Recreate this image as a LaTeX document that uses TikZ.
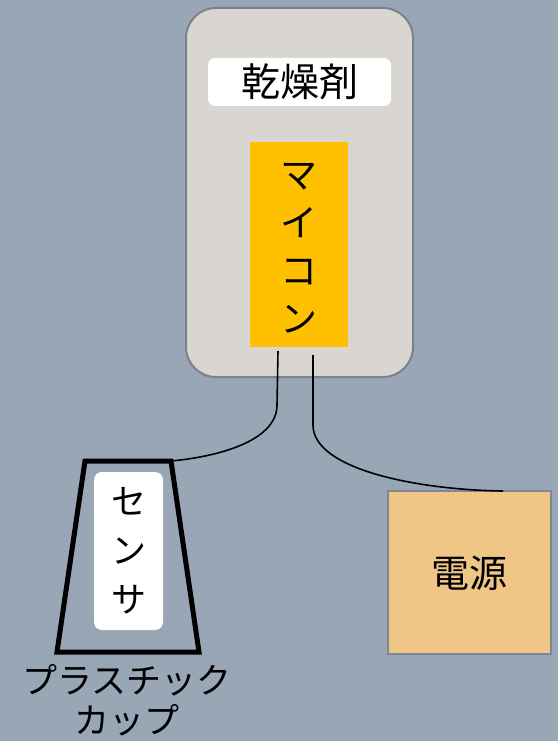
\documentclass[tikz,border=0pt]{standalone}
\usepackage{fontspec}
\newfontfamily\jp{Noto Sans CJK JP}
\definecolor{bgc}{HTML}{99A6B6}
\definecolor{casec}{HTML}{D9D6D2}
\definecolor{casedraw}{HTML}{7A8190}
\definecolor{mcu}{HTML}{FFC000}
\definecolor{pwr}{HTML}{F0C686}
\definecolor{pwrdraw}{HTML}{7F8794}
\tikzset{
  wire/.style={draw=black, line width=1.6pt},
}
\begin{document}
\begin{tikzpicture}[x=1pt,y=-1pt]
\fill[bgc] (0,0) rectangle (558,741);
\useasboundingbox (0,0) rectangle (558,741);
% case
\node[draw=casedraw, line width=2pt, fill=casec, rounded corners=30pt, minimum width=227pt, minimum height=369pt, inner sep=0pt] (case) at (299.5,192.5) {};
\node[fill=white, rounded corners=7pt, minimum width=183pt, minimum height=48pt, inner sep=0pt, font=\jp\fontsize{39}{39}\selectfont] (label) at (299.5,82) {乾燥剤};
\node[fill=mcu, minimum width=98pt, minimum height=205pt, inner sep=0pt] (mcu) at (299,244.5) {};
\node[align=center, font=\jp\fontsize{37}{48}\selectfont] (mcutext) at (299,248) {マ\\イ\\コ\\ン};
% wire anchors
\coordinate (w1s) at (278,351);
\coordinate (w1m) at (277,405);
\coordinate (w2s) at (313,355);
\coordinate (w2m) at (313,425);
% cup
\coordinate (cupTL) at (85,461);
\coordinate (cupTR) at (171,461);
\coordinate (cupBR) at (199,652);
\coordinate (cupBL) at (57,652);
\draw[line width=5pt, line join=miter] (cupTL) -- (cupTR) -- (cupBR) -- (cupBL) -- cycle;
\node[fill=white, rounded corners=8pt, minimum width=69pt, minimum height=158pt, inner sep=0pt] (sensor) at (128.5,551) {};
\node[align=center, font=\jp\fontsize{35}{49}\selectfont] (sensortext) at (128.5,551) {セ\\ン\\サ};
\node[align=center, font=\jp\fontsize{35}{40}\selectfont] (cuplabel) at (127,700) {プラスチック\\カップ};
% power
\node[draw=pwrdraw, line width=2pt, fill=pwr, minimum width=163pt, minimum height=163pt, inner sep=0pt] (power) at (469.5,572.5) {};
\node[font=\jp\fontsize{38}{38}\selectfont] (powertext) at (469,573) {電源};
\coordinate (pwrT) at (503,491);
% wires
\draw[wire] (w1s) -- (w1m) .. controls (277,442) and (215,457) .. (cupTR);
\draw[wire] (w2s) -- (w2m) .. controls (313,470) and (420,490) .. (pwrT);
\end{tikzpicture}
\end{document}
